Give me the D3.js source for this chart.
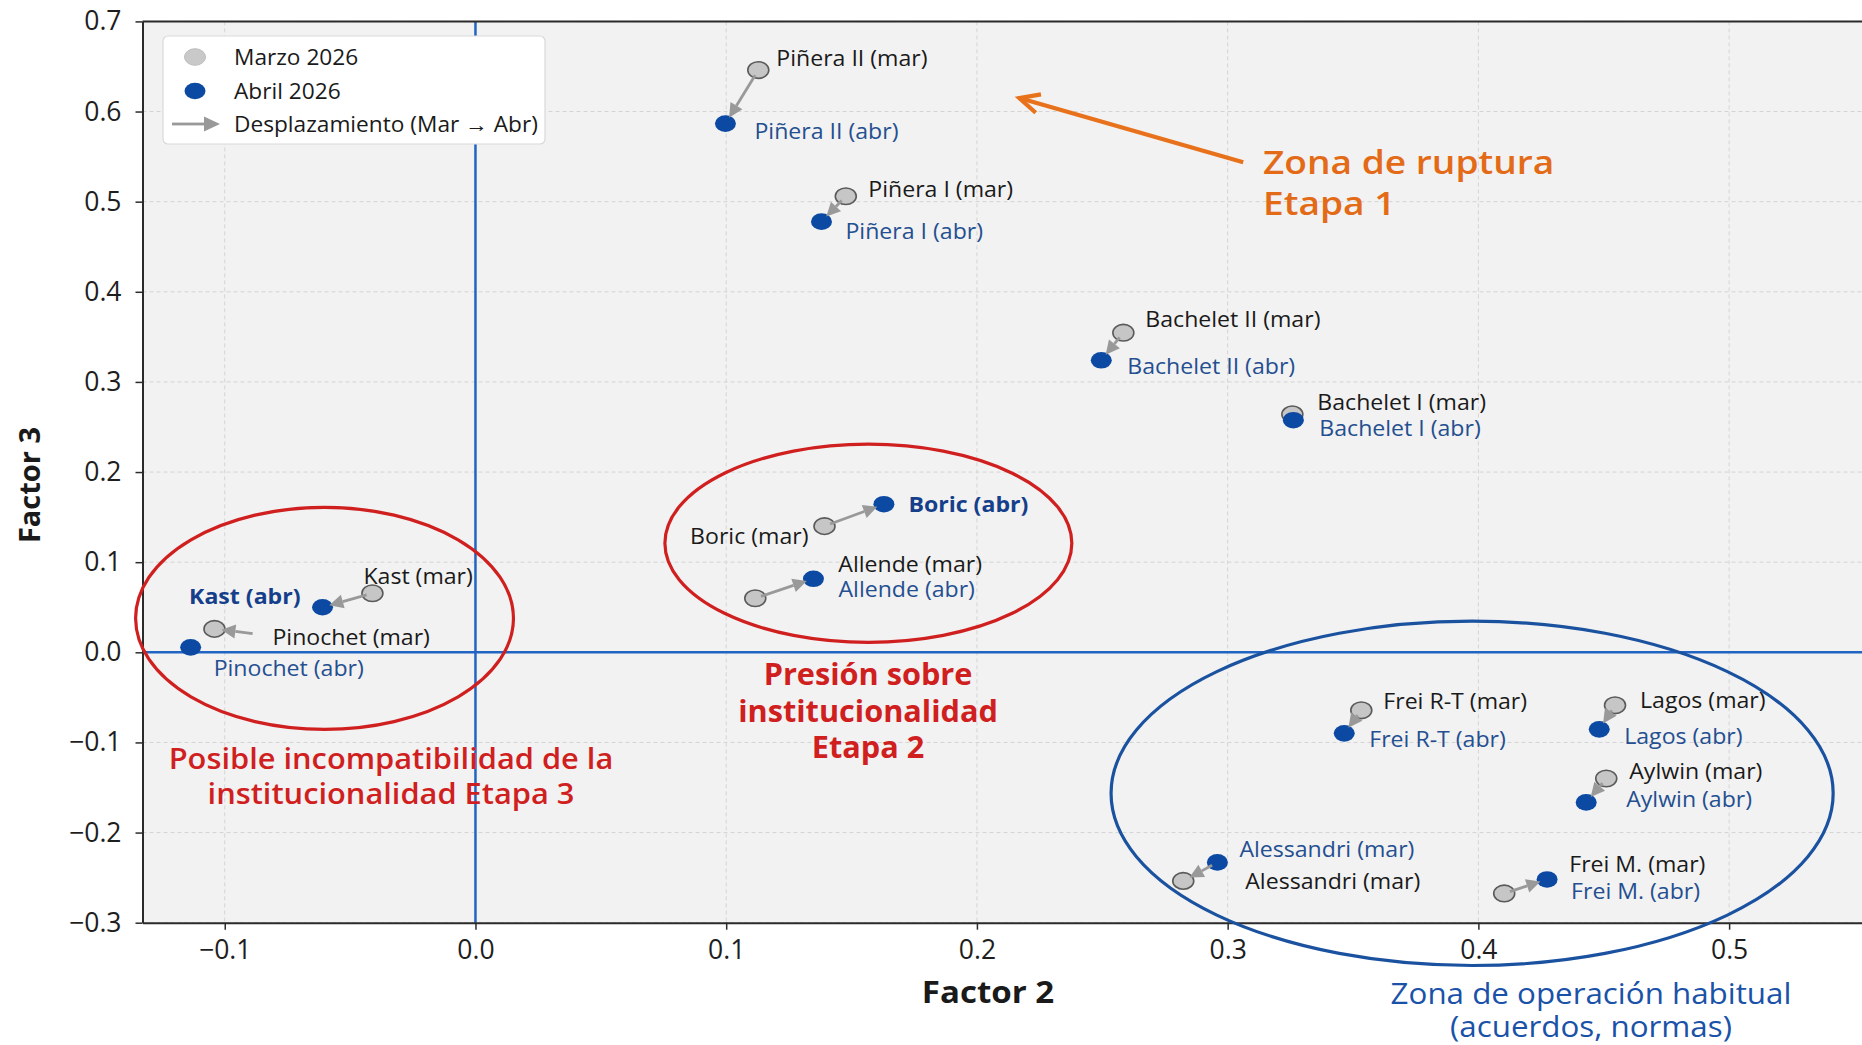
<!DOCTYPE html>
<html><head><meta charset="utf-8">
<script src="https://cdn.jsdelivr.net/npm/d3@7"></script>
<style>
body{margin:0;background:#fff}
svg{display:block}
text{font-family:"Open Sans",sans-serif}
</style>
</head><body>
<svg id="chart" width="1862" height="1045"></svg>
<script>
// ---------------- DATA ----------------
const names = ["Piñera II","Piñera I","Bachelet II","Bachelet I","Boric","Allende","Kast","Pinochet","Frei R-T","Lagos","Aylwin","Alessandri","Frei M."];
// Marzo 2026 (gray)
const marX = [0.1128, 0.1477, 0.2584, 0.3258, 0.1392, 0.1116, -0.0411, -0.1041, 0.3533, 0.4545, 0.4510, 0.2823, 0.4103];
const marY = [0.646, 0.506, 0.3546, 0.264, 0.140, 0.060, 0.0655, 0.026, -0.0644, -0.0588, -0.140, -0.2536, -0.2675];
// Abril 2026 (blue)
const abrX = [0.0997, 0.1380, 0.2496, 0.3262, 0.1629, 0.1348, -0.0610, -0.1136, 0.3465, 0.4482, 0.4430, 0.2959, 0.4274];
const abrY = [0.5866, 0.4778, 0.324, 0.2575, 0.1643, 0.0816, 0.050, 0.0055, -0.0899, -0.0855, -0.1665, -0.2331, -0.252];
const marLabels = ["Piñera II (mar)","Piñera I (mar)","Bachelet II (mar)","Bachelet I (mar)","Boric (mar)","Allende (mar)","Kast (mar)","Pinochet (mar)","Frei R-T (mar)","Lagos (mar)","Aylwin (mar)","Alessandri (mar)","Frei M. (mar)"];
const abrLabels = ["Piñera II (abr)","Piñera I (abr)","Bachelet II (abr)","Bachelet I (abr)","Boric (abr)","Allende (abr)","Kast (abr)","Pinochet (abr)","Frei R-T (abr)","Lagos (abr)","Aylwin (abr)","Alessandri (mar)","Frei M. (abr)"];
// displacement arrows (start -> end), data units
const arrowX1 = [0.1128, 0.1477, 0.2584, 0.3258, 0.1392, 0.1116, -0.0411, -0.0865, 0.3533, 0.4545, 0.4510, 0.2959, 0.4103];
const arrowY1 = [0.646, 0.506, 0.3546, 0.264, 0.140, 0.060, 0.0655, 0.0200, -0.0644, -0.0588, -0.140, -0.2331, -0.2675];
const arrowX2 = [0.0997, 0.1380, 0.2496, 0.3262, 0.1629, 0.1348, -0.0610, -0.1041, 0.3465, 0.4482, 0.4430, 0.2823, 0.4274];
const arrowY2 = [0.5866, 0.4778, 0.324, 0.2575, 0.1643, 0.0816, 0.050, 0.026, -0.0899, -0.0855, -0.1665, -0.2536, -0.252];

const xTicks = [-0.1, 0.0, 0.1, 0.2, 0.3, 0.4, 0.5];
const xTickLabels = ["\u22120.1","0.0","0.1","0.2","0.3","0.4","0.5"];
const yTicks = [-0.3, -0.2, -0.1, 0.0, 0.1, 0.2, 0.3, 0.4, 0.5, 0.6, 0.7];
const yTickLabels = ["\u22120.3","\u22120.2","\u22120.1","0.0","0.1","0.2","0.3","0.4","0.5","0.6","0.7"];
const legendLabels = ["Marzo 2026","Abril 2026","Desplazamiento (Mar \u2192 Abr)"];

// zones (ellipses) in data units
const zoneCx = [-0.0602, 0.1567, 0.3975];
const zoneCy = [0.0377, 0.121, -0.1565];
const zoneW  = [0.1507, 0.1623, 0.288];
const zoneH  = [0.2464, 0.2198, 0.382];
// orange pointer arrow (data units)
const ruptureArrowFrom = [0.3062, 0.5438];
const ruptureArrowTo   = [0.2169, 0.6149];
const zoneTexts = [
  ["Zona de ruptura","Etapa 1"],
  ["Presión sobre","institucionalidad","Etapa 2"],
  ["Posible incompatibilidad de la","institucionalidad Etapa 3"],
  ["Zona de operación habitual","(acuerdos, normas)"]
];

// ---------------- LAYOUT / STYLE ----------------
const W = 1862, H = 1045;
const plot = {left: 142.5, right: 1862, top: 21.4, bottom: 922.7};
const GRAY_FILL = "#c6c6c6", GRAY_EDGE = "#5a5a5a", BLUE = "#0b49a3", LABEL_BLUE = "#244f91";
const RED = "#d01f1f", ORANGE = "#e8721c", ZBLUE = "#1b52a0", AXBLUE = "#2264c2";
const zoneColors = [RED, RED, ZBLUE];
const LBL = 21, LSX = 1.1;   // label font size, horizontal stretch
const RX = 10.5, RY = 8.3;   // marker radii (stretched image)
// label offsets [dx, dy, anchor, bold]
const marOff = [[18,-13],[22.5,-8],[22,-14.5],[25,-13],[-16,9,"end"],[83,-35],[-9,-18],[58,7.5],[22,-10],[25,-6],[23,-8],[62,-0.5],[65,-30]];
const abrOff = [[29,6.5],[24,8.5],[26,5],[26,7],[24.5,-1,"start",1],[25,9.5],[-22,-12,"end",1],[23,20],[25,5],[25,6],[40,-4],[22,-14],[24,11]];

const svg = d3.select("#chart");
const x = d3.scaleLinear().domain([-0.1328, 0.553]).range([plot.left, plot.right]);
const y = d3.scaleLinear().domain([-0.3, 0.7]).range([plot.bottom, plot.top]);

function stext(g, px, py, str, size, sx, opts={}) {
  return g.append("text")
    .attr("transform", `translate(${px},${py}) scale(${sx},1)`)
    .attr("font-size", size)
    .attr("font-weight", opts.weight || 400)
    .attr("fill", opts.fill || "#1a1a1a")
    .attr("text-anchor", opts.anchor || "start")
    .attr("dominant-baseline", opts.baseline || "central")
    .text(str);
}

svg.append("rect").attr("width", W).attr("height", H).attr("fill", "#fff");
svg.append("rect").attr("x", plot.left).attr("y", plot.top)
  .attr("width", plot.right - plot.left).attr("height", plot.bottom - plot.top).attr("fill", "#f2f2f2");

// grid
const grid = svg.append("g");
grid.selectAll(".gx").data(xTicks).join("line")
  .attr("x1", d => x(d)).attr("x2", d => x(d)).attr("y1", plot.top).attr("y2", plot.bottom)
  .attr("stroke", "#d4d4d4").attr("stroke-width", 1).attr("stroke-dasharray", "4,3");
grid.selectAll(".gy").data(yTicks).join("line")
  .attr("y1", d => y(d)).attr("y2", d => y(d)).attr("x1", plot.left).attr("x2", plot.right)
  .attr("stroke", "#d4d4d4").attr("stroke-width", 1).attr("stroke-dasharray", "4,3");

// zero lines
svg.append("line").attr("x1", x(0)).attr("x2", x(0)).attr("y1", plot.top).attr("y2", plot.bottom)
  .attr("stroke", AXBLUE).attr("stroke-width", 2.5);
svg.append("line").attr("x1", plot.left).attr("x2", plot.right).attr("y1", y(0)).attr("y2", y(0))
  .attr("stroke", AXBLUE).attr("stroke-width", 2.5);

// axes
const xAxis = svg.append("g").attr("transform", `translate(0,${plot.bottom})`)
  .call(d3.axisBottom(x).tickValues(xTicks).tickFormat((d,i) => xTickLabels[i]).tickSize(7).tickPadding(10).tickSizeOuter(0));
const yAxis = svg.append("g").attr("transform", `translate(${plot.left},0)`)
  .call(d3.axisLeft(y).tickValues(yTicks).tickFormat((d,i) => yTickLabels[i]).tickSize(7).tickPadding(14).tickSizeOuter(0));
[xAxis, yAxis].forEach(a => {
  a.select(".domain").attr("stroke", "#2b2b2b").attr("stroke-width", 2);
  a.selectAll(".tick line").attr("stroke", "#2b2b2b").attr("stroke-width", 1.5);
  a.selectAll(".tick text").attr("font-size", 26.5).attr("fill", "#1e1e1e").attr("font-family", "Open Sans, sans-serif");
});
svg.append("line").attr("x1", plot.left).attr("x2", plot.right).attr("y1", plot.top).attr("y2", plot.top)
  .attr("stroke", "#2b2b2b").attr("stroke-width", 2);

// axis titles
stext(svg, 988, 1003, "Factor 2", 29.5, 1.12, {weight: 700, anchor: "middle", baseline: "auto"});
svg.append("text").attr("transform", "translate(40,485) rotate(-90)")
  .attr("font-size", 29).attr("font-weight", 700).attr("fill", "#1a1a1a").attr("text-anchor", "middle")
  .text("Factor 3");

// zone ellipses
svg.selectAll(".zone").data(zoneCx).join("ellipse")
  .attr("cx", (d,i) => x(zoneCx[i])).attr("cy", (d,i) => y(zoneCy[i]))
  .attr("rx", (d,i) => (x(zoneW[i]) - x(0)) / 2).attr("ry", (d,i) => (y(0) - y(zoneH[i])) / 2)
  .attr("fill", "none").attr("stroke", (d,i) => zoneColors[i]).attr("stroke-width", 3.2);

// markers
const idx = d3.range(names.length);
svg.selectAll(".mar").data(idx).join("ellipse")
  .attr("cx", i => x(marX[i])).attr("cy", i => y(marY[i])).attr("rx", RX).attr("ry", RY)
  .attr("fill", GRAY_FILL).attr("stroke", GRAY_EDGE).attr("stroke-width", 1.6);
svg.selectAll(".abr").data(idx).join("ellipse")
  .attr("cx", i => x(abrX[i])).attr("cy", i => y(abrY[i])).attr("rx", RX).attr("ry", RY)
  .attr("fill", BLUE);

// arrows
function drawArrow(g, x1, y1, x2, y2, shrinkA, shrinkB, color, lw, headL, headW) {
  const dx = x2 - x1, dy = y2 - y1, L = Math.hypot(dx, dy);
  if (L < shrinkA + shrinkB + 4) return;
  const ux = dx / L, uy = dy / L;
  const sx = x1 + ux * shrinkA, sy = y1 + uy * shrinkA;
  const ex = x2 - ux * shrinkB, ey = y2 - uy * shrinkB;
  const bx = ex - ux * headL, by = ey - uy * headL;
  g.append("line").attr("x1", sx).attr("y1", sy).attr("x2", bx).attr("y2", by)
    .attr("stroke", color).attr("stroke-width", lw);
  g.append("path").attr("d", `M${ex},${ey} L${bx - uy*headW},${by + ux*headW} L${bx + uy*headW},${by - ux*headW} Z`)
    .attr("fill", color);
}
const arrows = svg.append("g");
idx.forEach(i => drawArrow(arrows, x(arrowX1[i]), y(arrowY1[i]), x(arrowX2[i]), y(arrowY2[i]), 6, 7, "#999999", 2.8, 14, 7));

// labels
idx.forEach(i => {
  const m = marOff[i];
  stext(svg, x(marX[i]) + m[0], y(marY[i]) + m[1], marLabels[i], LBL, LSX, {anchor: m[2] || "start", fill: "#1a1a1a"});
  const a = abrOff[i];
  stext(svg, x(abrX[i]) + a[0], y(abrY[i]) + a[1], abrLabels[i], LBL, LSX,
    {anchor: a[2] || "start", fill: a[3] ? "#153f8a" : LABEL_BLUE, weight: a[3] ? 700 : 400});
});

// orange pointer arrow
(function(){
  const x1 = x(ruptureArrowFrom[0]), y1 = y(ruptureArrowFrom[1]);
  const x2 = x(ruptureArrowTo[0]), y2 = y(ruptureArrowTo[1]);
  svg.append("line").attr("x1", x1).attr("y1", y1).attr("x2", x2).attr("y2", y2)
    .attr("stroke", ORANGE).attr("stroke-width", 4.2);
  const ang = Math.atan2(y1 - y2, x1 - x2), a = 0.45, L = 22;
  svg.append("path")
    .attr("d", `M${x2 + L*Math.cos(ang+a)},${y2 + L*Math.sin(ang+a)} L${x2},${y2} L${x2 + L*Math.cos(ang-a)},${y2 + L*Math.sin(ang-a)}`)
    .attr("fill", "none").attr("stroke", ORANGE).attr("stroke-width", 4.2).attr("stroke-linejoin", "miter");
})();

// zone annotations
const zg = svg.append("g");
zoneTexts[0].forEach((t, k) => stext(zg, 1263, 174 + k*40.5, t, 32, 1.16, {weight: 600, fill: "#e36b17", baseline: "auto"}));
zoneTexts[1].forEach((t, k) => stext(zg, 868, 685 + k*36.5, t, 29.5, 1.04, {weight: 700, fill: RED, anchor: "middle", baseline: "auto"}));
zoneTexts[2].forEach((t, k) => stext(zg, 391, 769 + k*35, t, 28, 1.1, {weight: 600, fill: RED, anchor: "middle", baseline: "auto"}));
zoneTexts[3].forEach((t, k) => stext(zg, 1591, 1004 + k*33, t, 28.5, 1.1, {weight: 500, fill: "#1a52a8", anchor: "middle", baseline: "auto"}));

// legend
const lg = svg.append("g");
lg.append("rect").attr("x", 163).attr("y", 36).attr("width", 382).attr("height", 108).attr("rx", 5)
  .attr("fill", "#fff").attr("stroke", "#d9d9d9").attr("stroke-width", 1.2);
lg.append("ellipse").attr("cx", 195).attr("cy", 57).attr("rx", RX).attr("ry", RY).attr("fill", "#c9c9c9").attr("stroke", "#bdbdbd");
lg.append("ellipse").attr("cx", 195).attr("cy", 91).attr("rx", RX).attr("ry", RY).attr("fill", BLUE);
drawArrow(lg, 172, 124, 220, 124, 0, 0, "#999999", 2.8, 16, 7.5);
legendLabels.forEach((t, k) => stext(lg, 234, 57 + k*33.5, t, LBL, LSX - 0.02, {fill: "#1a1a1a"}));
</script>
</body></html>
